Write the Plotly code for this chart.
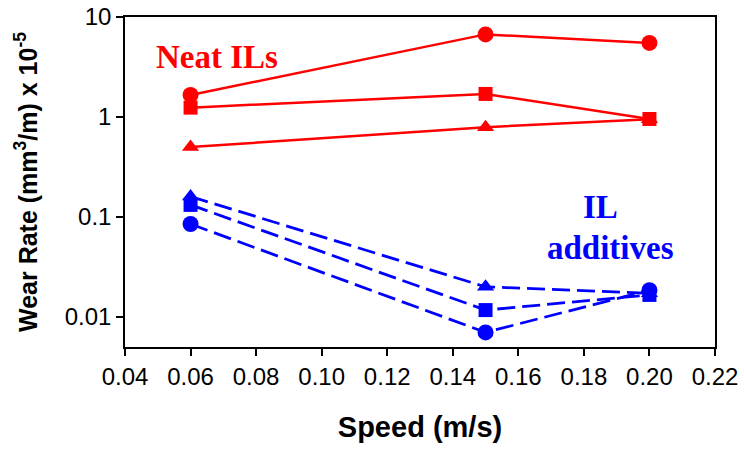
import plotly.graph_objects as go

speed = [0.06, 0.15, 0.20]

neat_circle = [1.66, 6.7, 5.5]
neat_square = [1.24, 1.70, 0.955]
neat_triangle = [0.50, 0.79, 0.95]

add_triangle = [0.16, 0.0200, 0.0172]
add_square = [0.132, 0.0117, 0.0166]
add_circle = [0.085, 0.0070, 0.0185]

x_ticks = [0.04, 0.06, 0.08, 0.10, 0.12, 0.14, 0.16, 0.18, 0.20, 0.22]
y_ticks = [0.01, 0.1, 1, 10]
y_tick_labels = ["0.01", "0.1", "1", "10"]

RED = "#ff0000"
BLUE = "#0000ff"

fig = go.Figure()

SIZES = {"circle": 16, "square": 14, "triangle-up": 15}

def add(y, color, symbol, dash, width):
    fig.add_trace(go.Scatter(
        x=speed, y=y, mode="lines+markers",
        line=dict(color=color, width=width, dash=dash),
        marker=dict(color=color, symbol=symbol, size=SIZES[symbol]),
        showlegend=False,
    ))

add(neat_circle, RED, "circle", "solid", 2.5)
add(neat_square, RED, "square", "solid", 2.5)
add(neat_triangle, RED, "triangle-up", "solid", 2.5)
add(add_triangle, BLUE, "triangle-up", "18px,7px", 2.8)
add(add_square, BLUE, "square", "18px,7px", 2.8)
add(add_circle, BLUE, "circle", "18px,7px", 2.8)

ann_font = "Liberation Serif"
fig.add_annotation(x=0.0681, y=0.60, xref="x", yref="y", yanchor="middle",
                   text="<b>Neat ILs</b>", showarrow=False,
                   font=dict(family=ann_font, size=33, color=RED))
fig.add_annotation(x=0.1850, y=-0.90, xref="x", yref="y", yanchor="middle",
                   text="<b>IL</b>", showarrow=False,
                   font=dict(family=ann_font, size=33, color=BLUE))
fig.add_annotation(x=0.1880, y=-1.31, xref="x", yref="y", yanchor="middle",
                   text="<b>additives</b>", showarrow=False,
                   font=dict(family=ann_font, size=33, color=BLUE))

fig.update_layout(
    width=744, height=451,
    margin=dict(l=125, r=29, t=17, b=104),
    paper_bgcolor="white", plot_bgcolor="white",
    font=dict(family="Liberation Sans", color="black"),
)
fig.update_xaxes(
    range=[0.04, 0.22], tickvals=x_ticks, ticktext=[f"{v:.2f}" for v in x_ticks],
    ticks="outside", ticklen=7, tickwidth=1.5, tickcolor="black",
    showline=True, linecolor="black", linewidth=1.5, mirror=True,
    showgrid=False, zeroline=False, automargin=False,
    tickfont=dict(size=24, family="Liberation Sans"),
    title=dict(text="<b>Speed (m/s)</b>", font=dict(size=29, family="Liberation Sans"), standoff=28),
)
fig.update_yaxes(
    type="log", range=[-2.30103, 1], tickvals=y_ticks, ticktext=y_tick_labels,
    ticks="outside", ticklen=7, tickwidth=1.5, tickcolor="black",
    showline=True, linecolor="black", linewidth=1.5, mirror=True,
    showgrid=False, zeroline=False, automargin=False,
    tickfont=dict(size=24, family="Liberation Sans"),
    title=dict(text="<b>Wear Rate (mm<sup>3</sup>/m) x 10<sup>-5</sup></b>",
               font=dict(size=25, family="Liberation Sans"), standoff=20),
)

fig.write_html("out.html", config={"displayModeBar": False},
               post_script="document.body.style.margin='0';document.body.style.padding='0';")
